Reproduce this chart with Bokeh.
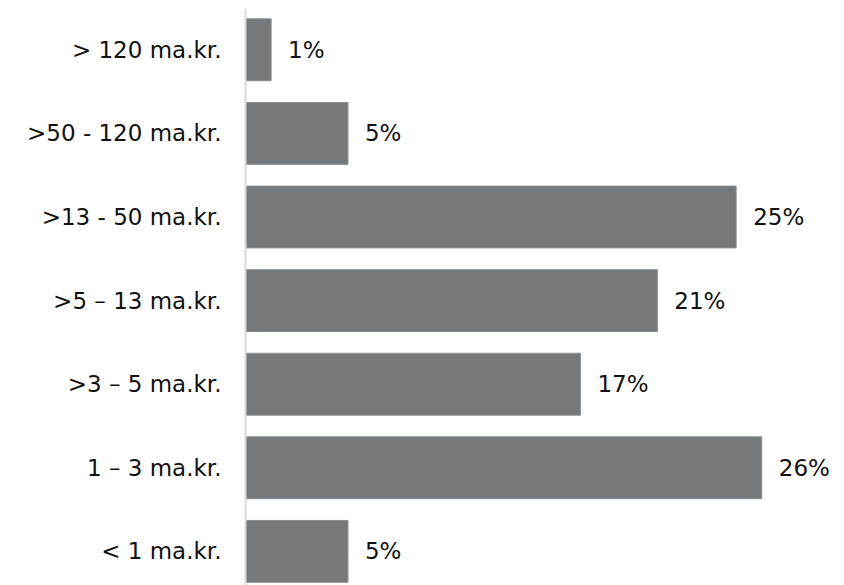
from bokeh.plotting import figure
from bokeh.models import Range1d, FixedTicker, ColumnDataSource
from bokeh.core.properties import value
from bokeh.embed import file_html
from bokeh.resources import INLINE

# Data (bottom to top)
categories = ["< 1 ma.kr.", "1 – 3 ma.kr.", ">3 – 5 ma.kr.", ">5 – 13 ma.kr.",
              ">13 - 50 ma.kr.", ">50 - 120 ma.kr.", "> 120 ma.kr."]
values = [5.2, 26.2, 17.0, 20.9, 24.9, 5.2, 1.3]
labels = ["5%", "26%", "17%", "21%", "25%", "5%", "1%"]

idx = list(range(len(categories)))
src = ColumnDataSource(dict(y=idx, v=values, lab=labels))

FONT = "DejaVu Sans"
FS = "23px"

p = figure(width=844, height=585, output_backend="svg", toolbar_location=None,
           x_range=Range1d(0, 30.4), y_range=Range1d(-0.408, 6.494),
           min_border_left=245, min_border_right=0, min_border_top=8, min_border_bottom=0)
p.outline_line_color = None
p.background_fill_color = "white"
p.border_fill_color = "white"

p.hbar(y="y", right="v", left=0, height=0.74, source=src,
       fill_color="#76797b", line_color="#8a8d8f", line_width=1)

p.text(x="v", y="y", text="lab", source=src, x_offset=17,
       text_baseline="middle", text_align="left",
       text_font=value(FONT), text_font_size=FS, text_color="#111111")

p.xaxis.visible = False
p.xgrid.visible = False
p.ygrid.visible = False

yax = p.yaxis[0]
yax.ticker = FixedTicker(ticks=idx)
yax.major_label_overrides = {i: c for i, c in zip(idx, categories)}
yax.major_tick_line_color = None
yax.minor_tick_line_color = None
yax.major_tick_out = 0
yax.major_tick_in = 0
yax.major_label_standoff = 24
yax.axis_line_color = "#d9d9d9"
yax.axis_line_width = 2
yax.major_label_text_font = FONT
yax.major_label_text_font_size = FS
yax.major_label_text_color = "#111111"

open("out.html", "w").write(file_html(p, INLINE))
